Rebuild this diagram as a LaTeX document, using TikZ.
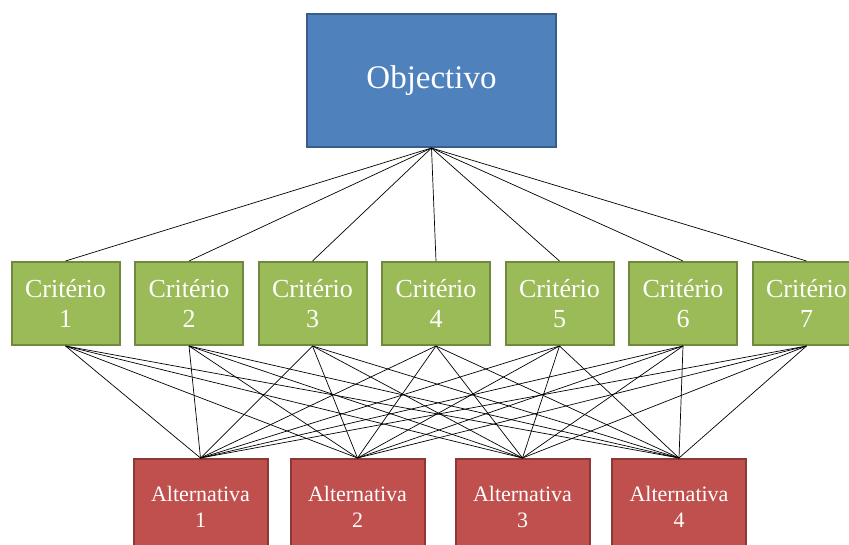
\documentclass[tikz,border=0pt]{standalone}
\usepackage{fontspec}
\setmainfont{Liberation Serif}
\definecolor{objfill}{HTML}{4F81BD}
\definecolor{objdraw}{HTML}{385D8A}
\definecolor{crifill}{HTML}{9BBB59}
\definecolor{cridraw}{HTML}{71893F}
\definecolor{altfill}{HTML}{C0504D}
\definecolor{altdraw}{HTML}{8C3836}
\tikzset{
  objbox/.style={draw=objdraw, fill=objfill, line width=2pt, text=white, minimum width=249pt, minimum height=133pt, inner sep=0pt, font=\fontsize{33}{38}\selectfont},
  cribox/.style={draw=cridraw, fill=crifill, line width=2pt, text=white, minimum width=108pt, minimum height=83pt, inner sep=0pt, align=center, font=\fontsize{26}{30}\selectfont},
  altbox/.style={draw=altdraw, fill=altfill, line width=2pt, text=white, minimum width=134pt, minimum height=96pt, inner sep=0pt, align=center, font=\fontsize{22}{26}\selectfont},
  link/.style={draw=black, line width=0.7pt}
}
\begin{document}
\begin{tikzpicture}[x=1pt,y=-1pt]
\clip (0,0) rectangle (849,544);
\useasboundingbox (0,0) rectangle (849,544);
\fill[white] (0,0) rectangle (849,544);
\node[objbox] (obj) at (431.5,80.5) {Objectivo};
\foreach \i/\x in {1/65.5,2/189,3/312.5,4/436,5/559.5,6/683,7/806.5}{
  \node[cribox] (c\i) at (\x,303.5) {Critério\\\i};
}
\foreach \i/\x in {1/200.5,2/357.5,3/522.5,4/679}{
  \node[altbox] (a\i) at (\x,507) {Alternativa\\\i};
}
\foreach \i in {1,...,7}{
  \draw[link] (obj.south) -- (c\i.north);
  \foreach \j in {1,...,4}{
    \draw[link] (c\i.south) -- (a\j.north);
  }
}
\end{tikzpicture}
\end{document}
